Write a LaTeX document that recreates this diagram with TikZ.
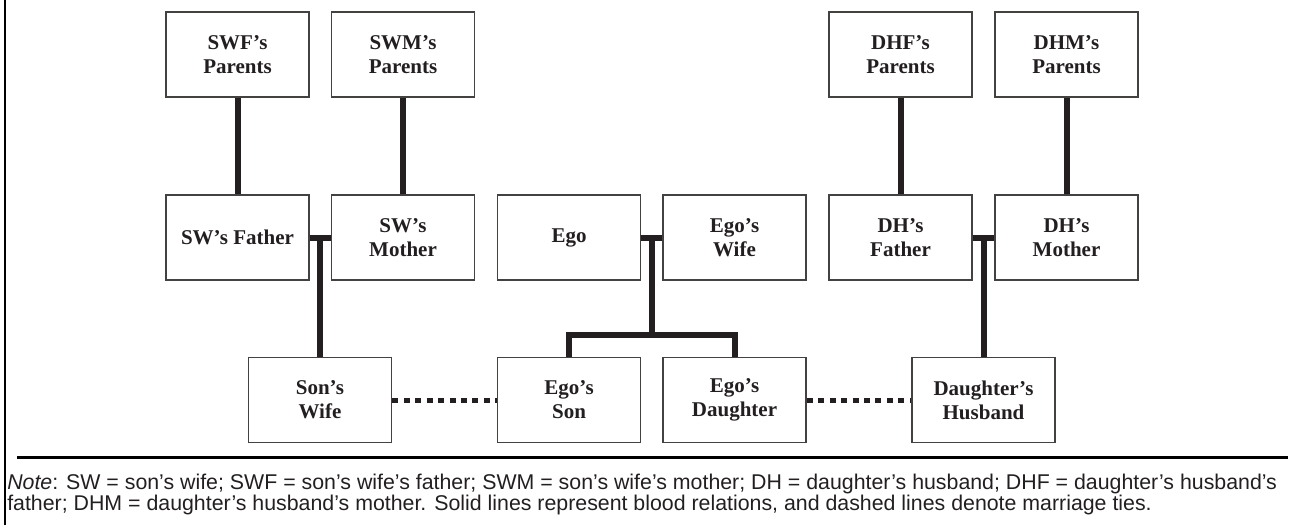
\documentclass[tikz,border=0pt]{standalone}
\usepackage{fontspec}
\setmainfont{Liberation Serif}
\newfontfamily\notefont{Liberation Sans}
\usetikzlibrary{calc}
\definecolor{ink}{HTML}{231F20}
\begin{document}
\begin{tikzpicture}[x=0.75pt,y=-0.75pt,
  person/.style={draw=ink!85, line width=1pt, fill=white, minimum width=107.25pt, minimum height=63.75pt, inner sep=0pt, align=center, font=\fontsize{15.75pt}{18pt}\selectfont\bfseries, text=ink},
  blood/.style={draw=ink, line width=4.5pt, line join=miter},
  marriage/.style={draw=ink, line width=3.75pt, dash pattern=on 4.5pt off 4.1pt},
  rule/.style={draw=black, line width=2.25pt},
  notetext/.style={anchor=base west, inner sep=0pt, font=\notefont\fontsize{16pt}{16pt}\selectfont, text=ink}]
\useasboundingbox (0,0) rectangle (1295,525);

\node[person] (swfp) at (237.5,54.5) {SWF’s\\Parents};
\node[person] (swmp) at (403,54.5) {SWM’s\\Parents};
\node[person] (dhfp) at (900.5,54.5) {DHF’s\\Parents};
\node[person] (dhmp) at (1066.5,54.5) {DHM’s\\Parents};
\node[person] (swf) at (237.5,237.5) {SW’s Father};
\node[person] (swm) at (403,237.5) {SW’s\\Mother};
\node[person] (ego) at (569,237.5) {Ego};
\node[person] (egow) at (734.5,237.5) {Ego’s\\Wife};
\node[person] (dhf) at (900.5,237.5) {DH’s\\Father};
\node[person] (dhm) at (1066.5,237.5) {DH’s\\Mother};
\node[person] (sonw) at (320,400) {Son’s\\Wife};
\node[person] (son) at (569,400) {Ego’s\\Son};
\node[person] (dau) at (734.5,400) {Ego’s\\Daughter};
\node[person] (dhus) at (983.5,400) {Daughter’s\\Husband};

\draw[blood] (swfp.south) -- (swf.north);
\draw[blood] (swmp.south) -- (swm.north);
\draw[blood] (dhfp.south) -- (dhf.north);
\draw[blood] (dhmp.south) -- (dhm.north);

\draw[blood] (swf.east) -- coordinate[pos=0.5] (swj) (swm.west);
\draw[blood] (swj) -- (swj |- sonw.north);

\draw[blood] (ego.east) -- coordinate[pos=0.5] (ej) (egow.west);
\coordinate (eb) at ($(ej)+(0,97.5)$);
\draw[blood] (ej) -- (eb);
\draw[blood] (son.north) -- (son.north |- eb) -- (dau.north |- eb) -- (dau.north);

\draw[blood] (dhf.east) -- coordinate[pos=0.5] (dhj) (dhm.west);
\draw[blood] (dhj) -- (dhj |- dhus.north);

\draw[marriage] (sonw.east) -- (son.west);
\draw[marriage] (dau.east) -- (dhus.west);

\draw[line width=1.5pt, draw=black] (5,0) -- (5,525);
\draw[rule] (17,457) -- (1288,457);

\node[notetext] (note1) at (7,489) {\textit{Note}: SW = son’s wife; SWF = son’s wife’s father; SWM = son’s wife’s mother; DH = daughter’s husband; DHF = daughter’s husband’s};
\node[notetext] (note2) at (7,510) {father; DHM = daughter’s husband’s mother. Solid lines represent blood relations, and dashed lines denote marriage ties.};
\end{tikzpicture}
\end{document}
